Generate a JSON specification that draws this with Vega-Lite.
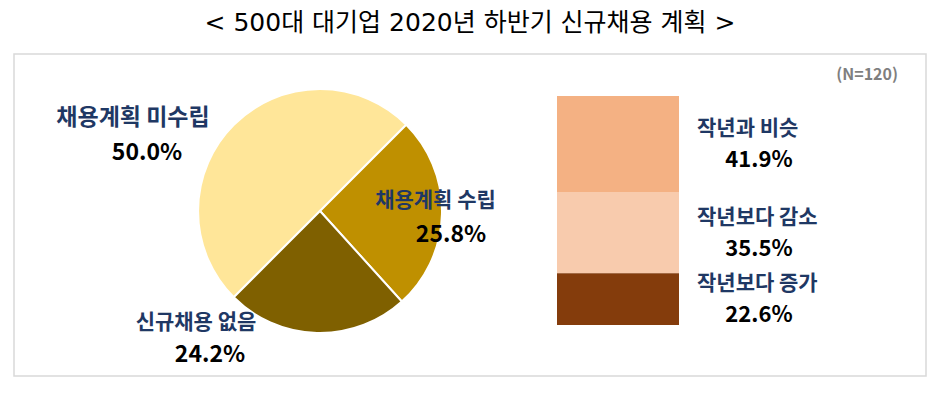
{
  "$schema": "https://vega.github.io/schema/vega-lite/v6.json",
  "width": 912,
  "height": 322,
  "autosize": "none",
  "padding": {"left": 14, "top": 54, "right": 13, "bottom": 17},
  "background": "white",
  "config": {"view": {"stroke": "#D9D9D9", "strokeWidth": 1.5}, "font": "Noto Sans CJK KR"},
  "title": {"text": "< 500대 대기업 2020년 하반기 신규채용 계획 >", "fontSize": 25, "fontWeight": "normal", "color": "#000000", "font": "DejaVu Sans, Noto Sans CJK KR", "offset": 18, "anchor": "middle"},
  "datasets": {
    "pie": [
      {"label": "채용계획 미수립", "value": 0.5},
      {"label": "채용계획 수립", "value": 0.258},
      {"label": "신규채용 없음", "value": 0.242}
    ],
    "bar": [
      {"label": "작년과 비슷", "value": 0.419},
      {"label": "작년보다 감소", "value": 0.355},
      {"label": "작년보다 증가", "value": 0.226}
    ],
    "note": [{"text": "(N=120)"}]
  },
  "layer": [
    {
      "data": {"name": "pie"},
      "mark": {"type": "arc", "outerRadius": 122, "stroke": "white", "strokeWidth": 2},
      "encoding": {
        "theta": {"field": "value", "type": "quantitative", "stack": true, "scale": {"range": [3.926991, 10.210176]}},
        "order": {"field": "value", "type": "quantitative", "sort": "descending"},
        "color": {"field": "label", "type": "nominal", "legend": null, "scale": {"domain": ["채용계획 미수립", "채용계획 수립", "신규채용 없음"], "range": ["#FFE699", "#BF9000", "#7F6000"]}},
        "x": {"datum": 306, "type": "quantitative", "axis": null, "scale": {"domain": [0, 912], "nice": false, "zero": false}},
        "y": {"datum": 0.4978, "type": "quantitative", "axis": null, "scale": {"domain": [-0.2227, 1.1834], "nice": false, "zero": false}}
      }
    },
    {
      "data": {"name": "bar"},
      "transform": [{"stack": "value", "groupby": [], "sort": [{"field": "label", "order": "descending"}], "as": ["v0", "v1"]}],
      "mark": {"type": "rect"},
      "encoding": {
        "x": {"datum": 543, "type": "quantitative", "axis": null, "scale": {"domain": [0, 912], "nice": false, "zero": false}},
        "x2": {"datum": 665},
        "y": {"field": "v0", "type": "quantitative", "axis": null, "scale": {"domain": [-0.2227, 1.1834], "nice": false, "zero": false}},
        "y2": {"field": "v1"},
        "color": {"field": "label", "type": "nominal", "legend": null, "scale": {"domain": ["작년과 비슷", "작년보다 감소", "작년보다 증가"], "range": ["#F4B183", "#F8CBAD", "#843C0C"]}}
      }
    },
    {
      "data": {"name": "bar"},
      "transform": [
        {"stack": "value", "groupby": [], "sort": [{"field": "label", "order": "descending"}], "as": ["v0", "v1"]},
        {"fold": ["v0", "v1"], "as": ["edge", "pos"]}
      ],
      "mark": {"type": "text", "align": "left", "baseline": "middle", "dy": -15, "fontSize": 21, "fontWeight": "bold", "color": "#1F3864", "font": "Noto Sans CJK KR"},
      "encoding": {
        "x": {"datum": 683, "type": "quantitative", "axis": null, "scale": {"domain": [0, 912], "nice": false, "zero": false}},
        "y": {"field": "pos", "aggregate": "mean", "type": "quantitative", "axis": null, "scale": {"domain": [-0.2227, 1.1834], "nice": false, "zero": false}},
        "text": {"field": "label", "type": "nominal"}
      }
    },
    {
      "data": {"name": "bar"},
      "transform": [
        {"stack": "value", "groupby": [], "sort": [{"field": "label", "order": "descending"}], "as": ["v0", "v1"]},
        {"fold": ["v0", "v1"], "as": ["edge", "pos"]}
      ],
      "mark": {"type": "text", "align": "center", "baseline": "middle", "dy": 16, "fontSize": 22, "fontWeight": "bold", "color": "#000000", "font": "Noto Sans CJK KR"},
      "encoding": {
        "x": {"datum": 745, "type": "quantitative", "axis": null, "scale": {"domain": [0, 912], "nice": false, "zero": false}},
        "y": {"field": "pos", "aggregate": "mean", "type": "quantitative", "axis": null, "scale": {"domain": [-0.2227, 1.1834], "nice": false, "zero": false}},
        "detail": {"field": "label", "type": "nominal"},
        "text": {"field": "value", "type": "quantitative", "format": ".1%"}
      }
    },
    {
      "mark": {"type": "rule", "color": "#BFBFBF", "strokeWidth": 1},
      "encoding": {
        "x": {"datum": 392.3, "type": "quantitative", "axis": null, "scale": {"domain": [0, 912], "nice": false, "zero": false}},
        "y": {"datum": 0.8747, "type": "quantitative", "axis": null, "scale": {"domain": [-0.2227, 1.1834], "nice": false, "zero": false}},
        "x2": {"datum": 543},
        "y2": {"datum": 1.0}
      }
    },
    {
      "mark": {"type": "rule", "color": "#BFBFBF", "strokeWidth": 1},
      "encoding": {
        "x": {"datum": 392.3, "type": "quantitative", "axis": null, "scale": {"domain": [0, 912], "nice": false, "zero": false}},
        "y": {"datum": 0.121, "type": "quantitative", "axis": null, "scale": {"domain": [-0.2227, 1.1834], "nice": false, "zero": false}},
        "x2": {"datum": 543},
        "y2": {"datum": 0}
      }
    },
    {
      "data": {"name": "pie"},
      "transform": [{"filter": {"field": "label", "equal": "채용계획 미수립"}}],
      "mark": {"type": "text", "align": "center", "baseline": "middle", "fontSize": 23, "fontWeight": "bold", "color": "#1F3864", "font": "Noto Sans CJK KR"},
      "encoding": {
        "x": {"datum": 119, "type": "quantitative", "axis": null, "scale": {"domain": [0, 912], "nice": false, "zero": false}},
        "y": {"datum": 0.9039, "type": "quantitative", "axis": null, "scale": {"domain": [-0.2227, 1.1834], "nice": false, "zero": false}},
        "text": {"field": "label", "type": "nominal"}
      }
    },
    {
      "data": {"name": "pie"},
      "transform": [{"filter": {"field": "label", "equal": "채용계획 미수립"}}],
      "mark": {"type": "text", "align": "center", "baseline": "middle", "fontSize": 23, "fontWeight": "bold", "color": "#000000", "font": "Noto Sans CJK KR"},
      "encoding": {
        "x": {"datum": 133, "type": "quantitative", "axis": null, "scale": {"domain": [0, 912], "nice": false, "zero": false}},
        "y": {"datum": 0.7511, "type": "quantitative", "axis": null, "scale": {"domain": [-0.2227, 1.1834], "nice": false, "zero": false}},
        "text": {"field": "value", "type": "quantitative", "format": ".1%"}
      }
    },
    {
      "data": {"name": "pie"},
      "transform": [{"filter": {"field": "label", "equal": "채용계획 수립"}}],
      "mark": {"type": "text", "align": "center", "baseline": "middle", "fontSize": 21, "fontWeight": "bold", "color": "#1F3864", "font": "Noto Sans CJK KR"},
      "encoding": {
        "x": {"datum": 421.5, "type": "quantitative", "axis": null, "scale": {"domain": [0, 912], "nice": false, "zero": false}},
        "y": {"datum": 0.5415, "type": "quantitative", "axis": null, "scale": {"domain": [-0.2227, 1.1834], "nice": false, "zero": false}},
        "text": {"field": "label", "type": "nominal"}
      }
    },
    {
      "data": {"name": "pie"},
      "transform": [{"filter": {"field": "label", "equal": "채용계획 수립"}}],
      "mark": {"type": "text", "align": "center", "baseline": "middle", "fontSize": 23, "fontWeight": "bold", "color": "#000000", "font": "Noto Sans CJK KR"},
      "encoding": {
        "x": {"datum": 437, "type": "quantitative", "axis": null, "scale": {"domain": [0, 912], "nice": false, "zero": false}},
        "y": {"datum": 0.393, "type": "quantitative", "axis": null, "scale": {"domain": [-0.2227, 1.1834], "nice": false, "zero": false}},
        "text": {"field": "value", "type": "quantitative", "format": ".1%"}
      }
    },
    {
      "data": {"name": "pie"},
      "transform": [{"filter": {"field": "label", "equal": "신규채용 없음"}}],
      "mark": {"type": "text", "align": "center", "baseline": "middle", "fontSize": 21, "fontWeight": "bold", "color": "#1F3864", "font": "Noto Sans CJK KR"},
      "encoding": {
        "x": {"datum": 182, "type": "quantitative", "axis": null, "scale": {"domain": [0, 912], "nice": false, "zero": false}},
        "y": {"datum": 0.0087, "type": "quantitative", "axis": null, "scale": {"domain": [-0.2227, 1.1834], "nice": false, "zero": false}},
        "text": {"field": "label", "type": "nominal"}
      }
    },
    {
      "data": {"name": "pie"},
      "transform": [{"filter": {"field": "label", "equal": "신규채용 없음"}}],
      "mark": {"type": "text", "align": "center", "baseline": "middle", "fontSize": 23, "fontWeight": "bold", "color": "#000000", "font": "Noto Sans CJK KR"},
      "encoding": {
        "x": {"datum": 196, "type": "quantitative", "axis": null, "scale": {"domain": [0, 912], "nice": false, "zero": false}},
        "y": {"datum": -0.131, "type": "quantitative", "axis": null, "scale": {"domain": [-0.2227, 1.1834], "nice": false, "zero": false}},
        "text": {"field": "value", "type": "quantitative", "format": ".1%"}
      }
    },
    {
      "data": {"name": "note"},
      "mark": {"type": "text", "align": "right", "baseline": "middle", "fontSize": 16, "fontWeight": "bold", "color": "#7F7F7F", "font": "Noto Sans CJK KR"},
      "encoding": {
        "x": {"datum": 884, "type": "quantitative", "axis": null, "scale": {"domain": [0, 912], "nice": false, "zero": false}},
        "y": {"datum": 1.0917, "type": "quantitative", "axis": null, "scale": {"domain": [-0.2227, 1.1834], "nice": false, "zero": false}},
        "text": {"field": "text", "type": "nominal"}
      }
    }
  ],
  "resolve": {"scale": {"color": "independent"}}
}
